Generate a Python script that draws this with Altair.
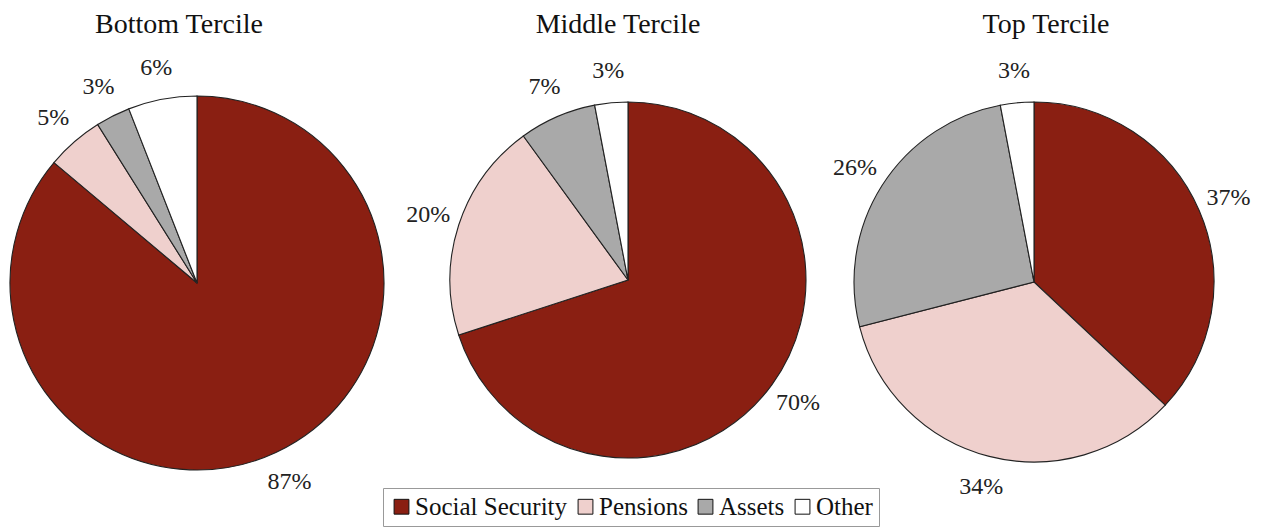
import altair as alt
import pandas as pd

terciles = ["Bottom Tercile", "Middle Tercile", "Top Tercile"]
sources = ["Social Security", "Pensions", "Assets", "Other"]
bottom_vals = [87, 5, 3, 6]
middle_vals = [70, 20, 7, 3]
top_vals = [37, 34, 26, 3]
colors = ["#8a1f12", "#efd0cd", "#a9a9a9", "#ffffff"]

rows = []
for t, vals in zip(terciles, [bottom_vals, middle_vals, top_vals]):
    for i, (s, v) in enumerate(zip(sources, vals)):
        rows.append({"tercile": t, "source": s, "value": v, "order": i, "label": f"{v}%"})
df = pd.DataFrame(rows)

# layout of each pie: center x, center y, radius, title x
layout = {
    "Bottom Tercile": (189, 275, 187, 171),
    "Middle Tercile": (620, 272, 178, 610),
    "Top Tercile": (1026, 274, 180, 1038),
}

FONT = "Liberation Serif"
color_scale = alt.Scale(domain=sources, range=colors)

layers = []
for t in terciles:
    cx, cy, r, tx = layout[t]
    base = alt.Chart(df).transform_filter(alt.datum.tercile == t)
    arc = base.mark_arc(outerRadius=r, stroke="#222222", strokeWidth=1.1).encode(
        theta=alt.Theta("value:Q", stack=True),
        color=alt.Color("source:N", scale=color_scale, sort=sources,
                        legend=alt.Legend(title=None, labelFont=FONT, labelFontSize=25,
                                          labelColor="#111111")),
        order=alt.Order("order:Q"),
        x=alt.value(cx), y=alt.value(cy),
    )
    txt = base.mark_text(radius=r + 32, font=FONT, fontSize=24, color="#222222").encode(
        theta=alt.Theta("value:Q", stack=True),
        order=alt.Order("order:Q"),
        text="label:N",
        x=alt.value(cx), y=alt.value(cy),
    )
    title = alt.Chart(pd.DataFrame({"t": [t]})).mark_text(
        font=FONT, fontSize=28, color="#111111", baseline="middle"
    ).encode(text="t:N", x=alt.value(tx), y=alt.value(17))
    layers += [arc, txt, title]

chart = alt.layer(*layers).resolve_scale(theta="independent").properties(
    width=1252, height=521, autosize=alt.AutoSizeParams(type="none"), padding=0
).configure(font=FONT).configure_view(stroke=None).configure_legend(
    orient="none", legendX=375, legendY=480, direction="horizontal",
    strokeColor="#999999", padding=6, fillColor="white",
    symbolType="square", symbolSize=220, symbolStrokeColor="#111111",
    symbolStrokeWidth=1, labelFont=FONT, labelFontSize=25, labelColor="#111111",
    columnPadding=5, symbolOffset=0, labelOffset=1, cornerRadius=0,
)

chart.save("out.html", embed_options={"renderer": "svg", "actions": False})
